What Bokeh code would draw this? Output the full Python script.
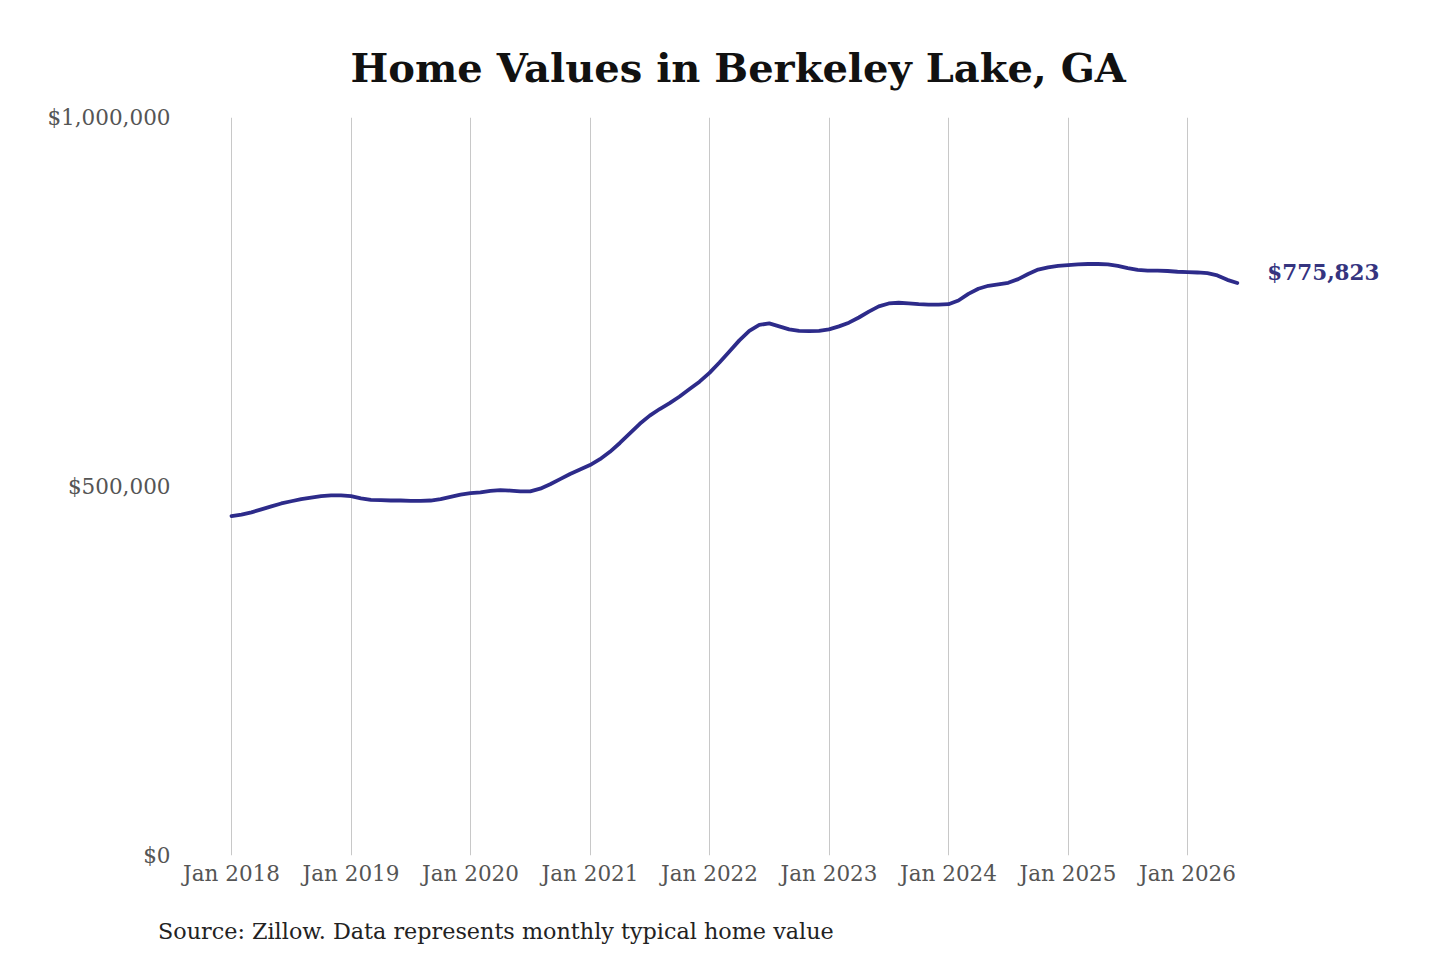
from bokeh.plotting import figure
from bokeh.layouts import column
from bokeh.models import (Range1d, FixedTicker, NumeralTickFormatter, Div,
                          ColumnDataSource)
from bokeh.core.properties import value
from bokeh.embed import file_html
from bokeh.resources import INLINE

# ---- data (monthly typical home value, Jan 2018 .. Jun 2026) ----
start_year = 2018
values_2018 = [460000, 462000, 465000, 469000, 473000, 477000, 480000, 483000, 485000, 487000, 488000, 488000]
values_2019 = [487000, 484000, 482000, 481500, 481000, 481000, 480500, 480500, 481000, 483000, 486000, 489000]
values_2020 = [491000, 492000, 494000, 495000, 494500, 493500, 493500, 497000, 503000, 510000, 517000, 523000]
values_2021 = [529000, 537000, 547000, 559000, 572000, 585000, 596000, 605000, 613000, 622000, 632000, 642000]
values_2022 = [654000, 668000, 683000, 698000, 711000, 719000, 721000, 717000, 713000, 711000, 710500, 711000]
values_2023 = [713000, 717000, 722000, 729000, 737000, 744000, 748000, 749000, 748000, 747000, 746500, 746500]
values_2024 = [747000, 752000, 761000, 768000, 772000, 774000, 776000, 781000, 788000, 794000, 797000, 799000]
values_2025 = [800000, 801000, 801500, 801500, 801000, 799000, 796000, 793500, 792500, 792500, 792000, 791000]
values_2026 = [790500, 790000, 789000, 786000, 780000, 775823]

home_values = (values_2018 + values_2019 + values_2020 + values_2021 + values_2022
               + values_2023 + values_2024 + values_2025 + values_2026)
month_index = list(range(len(home_values)))  # months since Jan 2018

tick_labels = ["Jan 2018", "Jan 2019", "Jan 2020", "Jan 2021", "Jan 2022",
               "Jan 2023", "Jan 2024", "Jan 2025", "Jan 2026"]
tick_months = [12 * i for i in range(len(tick_labels))]
y_ticks = [0, 500000, 1000000]

end_label = "$775,823"
title_text = "Home Values in Berkeley Lake, GA"
source_text = "Source: Zillow. Data represents monthly typical home value"

# ---- styling ----
FONT = "DejaVu Serif"
LINE_COLOR = "#2d2b8a"
LABEL_COLOR = "#35347f"
TICK_COLOR = "#555555"
GRID_COLOR = "#c8c8c8"

# frame placement (page pixels): left 190, right 1400, top 117, bottom 855
px_per_month = 119.5 / 12.0
x_start = -(231 - 190) / px_per_month
x_end = (1400 - 231) / px_per_month

W, H = 1424, 900
p = figure(width=W, height=H, output_backend="svg", toolbar_location=None,
           x_range=Range1d(x_start, x_end), y_range=Range1d(0, 1000000),
           min_border_left=190, min_border_right=W - 190 - 1210,
           min_border_top=117, min_border_bottom=H - 117 - 738)
p.outline_line_color = None
p.background_fill_color = "white"
p.border_fill_color = "white"

# title
p.title.text = title_text
p.title.align = "left"
p.title.offset = 160
p.title.text_font = FONT
p.title.text_font_size = "40px"
p.title.text_font_style = "bold"
p.title.text_color = "#111111"
p.title.standoff = 53

# axes
p.xaxis.ticker = FixedTicker(ticks=tick_months)
p.xaxis.major_label_overrides = {m: lab for m, lab in zip(tick_months, tick_labels)}
p.yaxis.ticker = FixedTicker(ticks=y_ticks)
p.yaxis.formatter = NumeralTickFormatter(format="$0,0")
for ax in (p.xaxis, p.yaxis):
    ax.axis_line_color = None
    ax.major_tick_line_color = None
    ax.minor_tick_line_color = None
    ax.major_tick_out = 0
    ax.major_tick_in = 0
    ax.major_label_text_font = FONT
    ax.major_label_text_font_size = "21.5px"
    ax.major_label_text_color = TICK_COLOR
p.xaxis.major_label_standoff = 5
p.yaxis.major_label_standoff = 20

# grid
p.xgrid.ticker = FixedTicker(ticks=tick_months)
p.xgrid.grid_line_color = GRID_COLOR
p.xgrid.grid_line_width = 1
p.ygrid.grid_line_color = None

# line
src = ColumnDataSource(dict(x=month_index, y=home_values))
p.line("x", "y", source=src, line_color=LINE_COLOR, line_width=3.8,
       line_join="round", line_cap="round")

# end label
p.text(x=[month_index[-1]], y=[home_values[-1]], text=[end_label],
       text_font=value(FONT), text_font_size="21.5px", text_font_style="bold",
       text_color=LABEL_COLOR, text_align="left", text_baseline="middle",
       x_offset=30, y_offset=-10)

# source note below the chart
note = Div(text=('<div style="margin:0; padding:13px 0 0 153px; '
                 'font-family:\'DejaVu Serif\', serif; font-size:22.3px; '
                 'line-height:1.2; color:#222222; white-space:nowrap;">'
                 + source_text + '</div>'),
           width=W, height=52)

layout = column(p, note, spacing=0)
open("out.html", "w").write(file_html(layout, INLINE))
